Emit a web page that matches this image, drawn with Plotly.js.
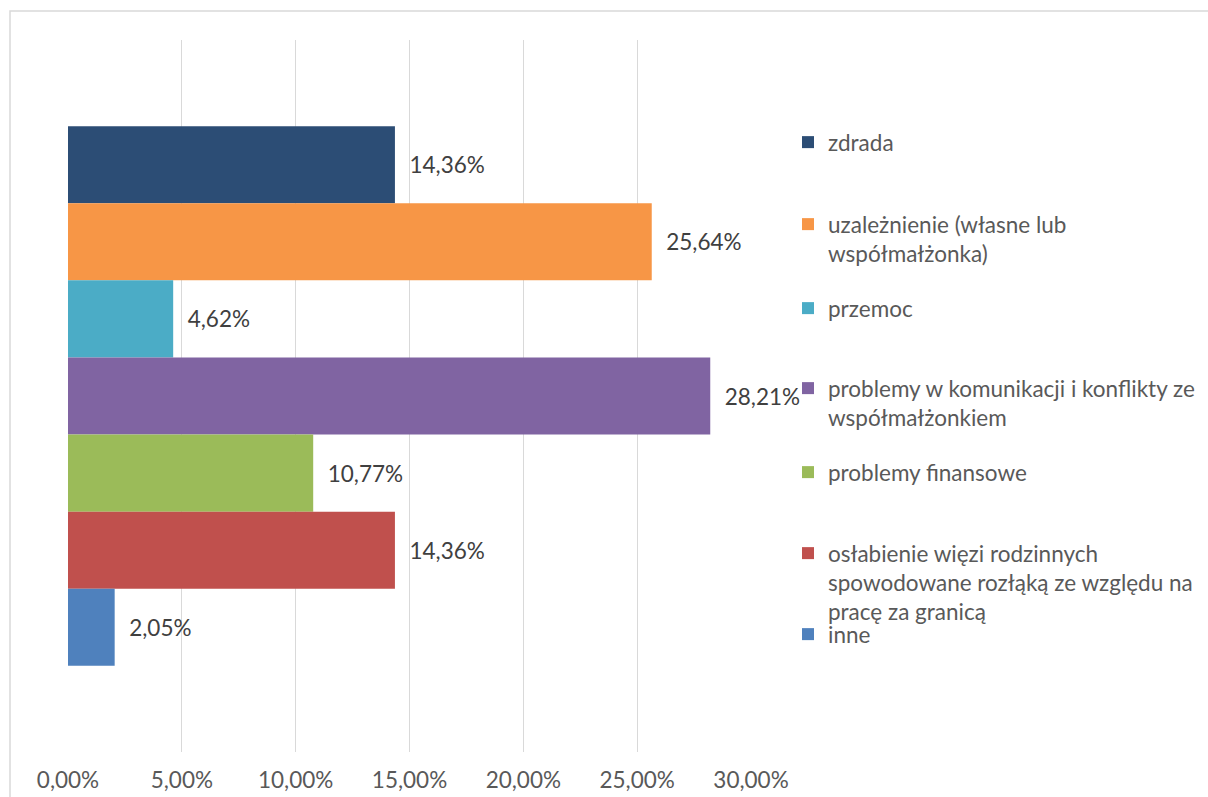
<!DOCTYPE html>
<html>
<head>
<meta charset="utf-8">
<script src="https://cdn.plot.ly/plotly-3.0.1.min.js"></script>
<style>html,body{margin:0;padding:0;background:#fff;} #chart{width:1208px;height:797px;}</style>
</head>
<body>
<div id="chart"></div>
<script>
const categories = ['zdrada', 'uzależnienie (własne lub<br>współmałżonka)', 'przemoc', 'problemy w komunikacji i konflikty ze<br>współmałżonkiem', 'problemy finansowe', 'osłabienie więzi rodzinnych<br>spowodowane rozłąką ze względu na<br>pracę za granicą', 'inne'];
const values = [0.1436, 0.2564, 0.0462, 0.2821, 0.1077, 0.1436, 0.0205];
const colors = ['#2C4D75', '#F79646', '#4BACC6', '#8064A2', '#9BBB59', '#C0504D', '#4F81BD'];
const tickVals = [0, 0.05, 0.10, 0.15, 0.20, 0.25, 0.30];
const groupName = ['Przyczyny'];

const W = 1208, H = 797;
const L = 68, R = 751, T = 40, B = 752;
const pw = R - L, ph = B - T;
const legendTops = [121, 203, 287, 367, 451, 532, 613];
const FONT = 'Lato, "Open Sans", sans-serif';
const FS = 22.5;

const traces = categories.map((c, i) => ({
  type: 'bar',
  orientation: 'h',
  name: c,
  x: [values[i]],
  y: groupName,
  marker: {color: colors[i]},
  texttemplate: '\u00a0\u00a0%{x:.2%}',
  textposition: 'outside',
  cliponaxis: false,
  constraintext: 'none',
  textfont: {family: FONT, size: FS, color: '#404040'},
  legend: i === 0 ? 'legend' : 'legend' + (i + 1),
  showlegend: true,
  hoverinfo: 'x+name'
}));

const layout = {
  width: W, height: H,
  margin: {l: L, r: W - R, t: T, b: H - B, pad: 0, autoexpand: false},
  separators: ', ',
  barmode: 'group',
  bargap: 0.242,
  showlegend: true,
  paper_bgcolor: '#fff',
  plot_bgcolor: '#fff',
  font: {family: FONT, color: '#595959'},
  xaxis: {
    range: [0, 0.30],
    tickvals: tickVals,
    tickformat: '.2%',
    showgrid: true,
    gridcolor: '#d9d9d9',
    gridwidth: 1,
    zeroline: false,
    showline: false,
    ticks: '',
    ticklabelstandoff: 12,
    tickfont: {family: FONT, size: FS, color: '#595959'}
  },
  yaxis: {
    autorange: 'reversed',
    showticklabels: false,
    showgrid: false,
    zeroline: false,
    showline: false,
    ticks: ''
  },
  shapes: [{
    type: 'rect', xref: 'paper', yref: 'paper',
    x0: (10 - L) / pw, x1: (W + 5 - L) / pw,
    y0: (B - (H + 5)) / ph, y1: (B - 11) / ph,
    line: {color: '#d9d9d9', width: 1.5},
    fillcolor: 'rgba(0,0,0,0)',
    layer: 'below'
  }]
};

legendTops.forEach((top, i) => {
  const key = i === 0 ? 'legend' : 'legend' + (i + 1);
  layout[key] = {
    x: (788 - L) / pw,
    xanchor: 'left',
    y: (B - top) / ph,
    yanchor: 'top',
    valign: 'top',
    bgcolor: 'rgba(0,0,0,0)',
    borderwidth: 0,
    font: {family: FONT, size: FS, color: '#595959'},
    itemclick: false,
    itemdoubleclick: false
  };
});

Plotly.newPlot('chart', traces, layout, {displayModeBar: false, staticPlot: true});
</script>
</body>
</html>
